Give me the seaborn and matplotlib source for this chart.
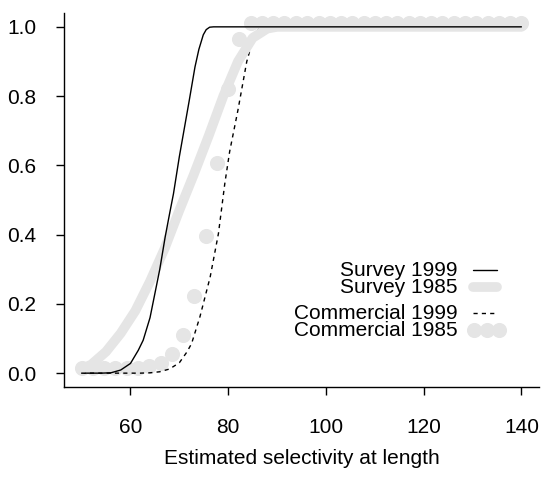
import matplotlib
matplotlib.use("Agg")
import matplotlib.pyplot as plt
import seaborn as sns

sns.set_style("white")
plt.rcParams["font.family"] = ["Liberation Sans", "DejaVu Sans"]

# ---- data ----
survey1999_x = [50, 54, 56, 58, 60, 61.6, 62.6, 64, 66, 67.1, 68, 68.8, 70, 71, 72, 73.2, 74, 74.9, 75.5, 76.2, 77, 80, 100, 140]
survey1999_y = [0, 0, 0.001, 0.009, 0.028, 0.066, 0.095, 0.16, 0.30, 0.393, 0.46, 0.518, 0.625, 0.705, 0.785, 0.884, 0.935, 0.977, 0.992, 0.999, 1.0, 1.0, 1.0, 1.0]

survey1985_x = [50, 52, 55, 58, 61, 64, 67, 70, 73, 76, 79, 82, 85, 88, 90, 100, 140]
survey1985_y = [0.012, 0.025, 0.062, 0.115, 0.18, 0.265, 0.36, 0.47, 0.575, 0.685, 0.80, 0.90, 0.968, 0.995, 1.0, 1.0, 1.0]

comm1999_x = [50, 62, 64, 66, 68, 70, 71.5, 72.5, 74.2, 76.3, 78, 79.3, 80.3, 82, 83.8, 85, 86, 87, 100, 140]
comm1999_y = [0, 0, 0.001, 0.004, 0.012, 0.03, 0.06, 0.085, 0.162, 0.277, 0.403, 0.547, 0.64, 0.76, 0.90, 0.96, 0.99, 1.0, 1.0, 1.0]

comm1985_x = [50.0, 52.3, 54.6, 56.9, 59.2, 61.5, 63.8, 66.2, 68.5, 70.8, 73.1, 75.4, 77.7, 80.0,
              82.3, 84.6, 86.9, 89.2, 91.5, 93.8, 96.2, 98.5, 100.8, 103.1, 105.4, 107.7, 110.0,
              112.3, 114.6, 116.9, 119.2, 121.5, 123.8, 126.2, 128.5, 130.8, 133.1, 135.4, 137.7, 140.0]
comm1985_y = [0.015, 0.015, 0.015, 0.015, 0.015, 0.016, 0.02, 0.03, 0.056, 0.111, 0.223, 0.396, 0.607, 0.82,
              0.964, 1.012, 1.012, 1.012, 1.012, 1.012, 1.012, 1.012, 1.012, 1.012, 1.012, 1.012, 1.012,
              1.012, 1.012, 1.012, 1.012, 1.012, 1.012, 1.012, 1.012, 1.012, 1.012, 1.012, 1.012, 1.012]

legend_labels = ["Survey 1999", "Survey 1985", "Commercial 1999", "Commercial 1985"]
x_ticks = [60, 80, 100, 120, 140]
y_ticks = [0.0, 0.2, 0.4, 0.6, 0.8, 1.0]
x_label = "Estimated selectivity at length"

GRAY = "#E5E5E5"
PT_S = 118      # marker area (pt^2) -> ~15 px circles
THICK = 7.0     # thick gray line width (pt)

W, H = 544, 478
fig = plt.figure(figsize=(W / 100, H / 100), dpi=100)
L, R, T, B = 64, 539, 13, 387
ax = fig.add_axes([L / W, 1 - B / H, (R - L) / W, (B - T) / H])

sns.scatterplot(x=comm1985_x, y=comm1985_y, ax=ax, color=GRAY, s=PT_S, linewidth=0, zorder=2)
sns.lineplot(x=comm1999_x, y=comm1999_y, ax=ax, color="black", lw=1.0,
             linestyle=(0, (3, 3)), zorder=3, estimator=None, sort=False)
sns.lineplot(x=survey1985_x, y=survey1985_y, ax=ax, color=GRAY, lw=THICK,
             solid_capstyle="round", solid_joinstyle="round", zorder=4, estimator=None, sort=False)
sns.lineplot(x=survey1999_x, y=survey1999_y, ax=ax, color="black", lw=1.0,
             zorder=5, estimator=None, sort=False)

ax.set_xlim(46.4, 143.6)
ax.set_ylim(-0.04, 1.04)
ax.set_xticks(x_ticks)
ax.set_xticklabels([str(v) for v in x_ticks])
ax.set_yticks(y_ticks)
ax.set_yticklabels([f"{v:.1f}" for v in y_ticks])
for s in ["top", "right"]:
    ax.spines[s].set_visible(False)
for s in ["left", "bottom"]:
    ax.spines[s].set_color("black")
    ax.spines[s].set_linewidth(1.0)
ax.tick_params(axis="both", direction="out", length=6, width=1.0, color="black",
               labelsize=15, labelcolor="black", left=True, bottom=True)
ax.tick_params(axis="x", pad=16)
ax.tick_params(axis="y", pad=14)
ax.set_xlabel(x_label, fontsize=15, labelpad=9, color="black")
ax.grid(False)

# ---- legend (manual, R-style, no frame) ----
tx = (458 - L) / (R - L)
ys = [(B - y) / (B - T) for y in (270, 287.3, 313.3, 330)]
lx0, lx1 = (473 - L) / (R - L), (497 - L) / (R - L)
for lab, yy in zip(legend_labels, ys):
    ax.text(tx, yy, lab, transform=ax.transAxes, ha="right", va="center", fontsize=15, color="black")
ax.plot([lx0, lx1], [ys[0]] * 2, transform=ax.transAxes, color="black", lw=1.0)
ax.plot([lx0, lx1], [ys[1]] * 2, transform=ax.transAxes, color=GRAY, lw=THICK, solid_capstyle="round")
ax.plot([lx0, lx1], [ys[2]] * 2, transform=ax.transAxes, color="black", lw=1.0, linestyle=(0, (3, 3)))
px = [(v - L) / (R - L) for v in (474, 486.5, 499)]
ax.scatter(px, [ys[3]] * 3, transform=ax.transAxes, color=GRAY, s=PT_S, linewidths=0, clip_on=False)

fig.savefig("out.png", dpi=100)
